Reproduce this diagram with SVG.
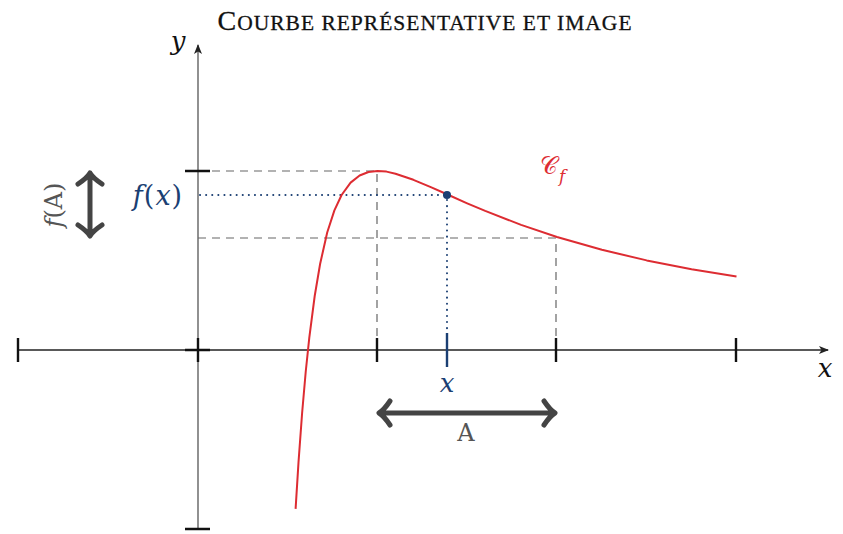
<svg xmlns="http://www.w3.org/2000/svg" width="843" height="534" viewBox="0 0 843 534">
<style>
.axis{stroke:#222;stroke-width:1.3;fill:none}
.yaxis{stroke:#555;stroke-width:1.3;fill:none}
.tick{stroke:#111;stroke-width:2.4;fill:none}
.dash{stroke:#666;stroke-width:1.2;stroke-dasharray:8 6;fill:none}
.dot{stroke:#1b3f73;stroke-width:2;stroke-dasharray:0.1 6;stroke-linecap:round;fill:none}
.curve{stroke:#dd2c32;stroke-width:2;fill:none;stroke-linejoin:round}
.big{stroke:#444;stroke-width:5;fill:none;stroke-linecap:round;stroke-linejoin:round}
.serif{font-family:"DejaVu Serif","Liberation Serif",serif}
.it{font-style:italic}
</style>
<defs>
<marker id="ah" viewBox="0 0 10 10" refX="9" refY="5" markerWidth="10" markerHeight="10" markerUnits="userSpaceOnUse" orient="auto">
<path d="M0,1 L10,5 L0,9 L2.5,5 Z" fill="#222"/>
</marker>
</defs>
<text x="425" y="30" text-anchor="middle" font-family="Liberation Serif, serif" fill="#111" stroke="#111" stroke-width="0.3" letter-spacing="1"><tspan font-size="28">C</tspan><tspan font-size="21.5" style="text-transform:uppercase">ourbe représentative et image</tspan></text>
<g id="connectors">
<line class="axis" x1="18" y1="350" x2="828" y2="350" marker-end="url(#ah)"/>
<line class="yaxis" x1="198" y1="529" x2="198" y2="45" marker-end="url(#ah)"/>
<path class="dash" d="M198,171 H377 V338"/>
<path class="dash" d="M198,238 H556 V338"/>
<path class="dot" d="M200,195 H447"/>
<path class="dot" d="M447,200 V333"/>
</g>
<g id="ticks">
<path class="tick" d="M18,338 V362 M377,338 V362 M556,338 V362 M736,338 V362 M198,338 V362 M185,350 H210 M185,171 H210 M185,529 H210"/>
<path d="M447,333 V367" stroke="#1b3f73" stroke-width="2.4"/>
</g>
<g id="curve">
<path class="curve" d="M295.6,508.9 L298.5,462.4 L302.1,413.2 L305.7,372.0 L309.3,337.6 L314.7,296.0 L320.1,264.0 L327.2,232.5 L334.4,210.4 L341.6,195.0 L350.6,182.6 L359.6,175.5 L368.5,172.0 L377.5,171.0 L386.5,171.6 L395.5,173.7 L413.4,179.8 L431.4,187.3 L447.5,194.5 L467.2,203.3 L485.2,210.9 L521.1,224.9 L557.0,237.0 L601.9,249.8 L646.7,260.4 L691.6,269.2 L736.5,276.6"/>
<circle cx="447" cy="195" r="4" fill="#1b3f73"/>
</g>
<g id="arrowA">
<path class="big" d="M380,413 H554 M390,401 Q384,410 379,413 Q384,416 390,425 M544,401 Q550,410 555,413 Q550,416 544,425"/>
<text x="466" y="441" text-anchor="middle" class="serif" font-size="24" fill="#555">A</text>
</g>
<g id="arrowFA">
<path class="big" d="M90,174 V235 M78,184 Q87,178 90,173 Q93,178 102,184 M78,225 Q87,231 90,236 Q93,231 102,225"/>
<text transform="translate(62,205) rotate(-90)" text-anchor="middle" class="serif" font-size="24" fill="#555"><tspan class="it">f</tspan>(A)</text>
</g>
<g id="labels">
<text x="158" y="205" text-anchor="middle" class="serif" font-size="27" letter-spacing="1" fill="#1b3f73"><tspan class="it">f</tspan>(<tspan class="it">x</tspan>)</text>
<text x="447" y="392" text-anchor="middle" class="serif it" font-size="26" fill="#1b3f73">x</text>
<text x="825" y="377" text-anchor="middle" class="serif it" font-size="26" fill="#111">x</text>
<text x="178" y="50" text-anchor="middle" class="serif it" font-size="26" fill="#111">y</text>
<text x="540" y="174" class="serif" font-size="24" fill="#dd2c32">𝒞<tspan class="it" font-size="17" dx="1" dy="8">f</tspan></text>
</g>
</svg>
